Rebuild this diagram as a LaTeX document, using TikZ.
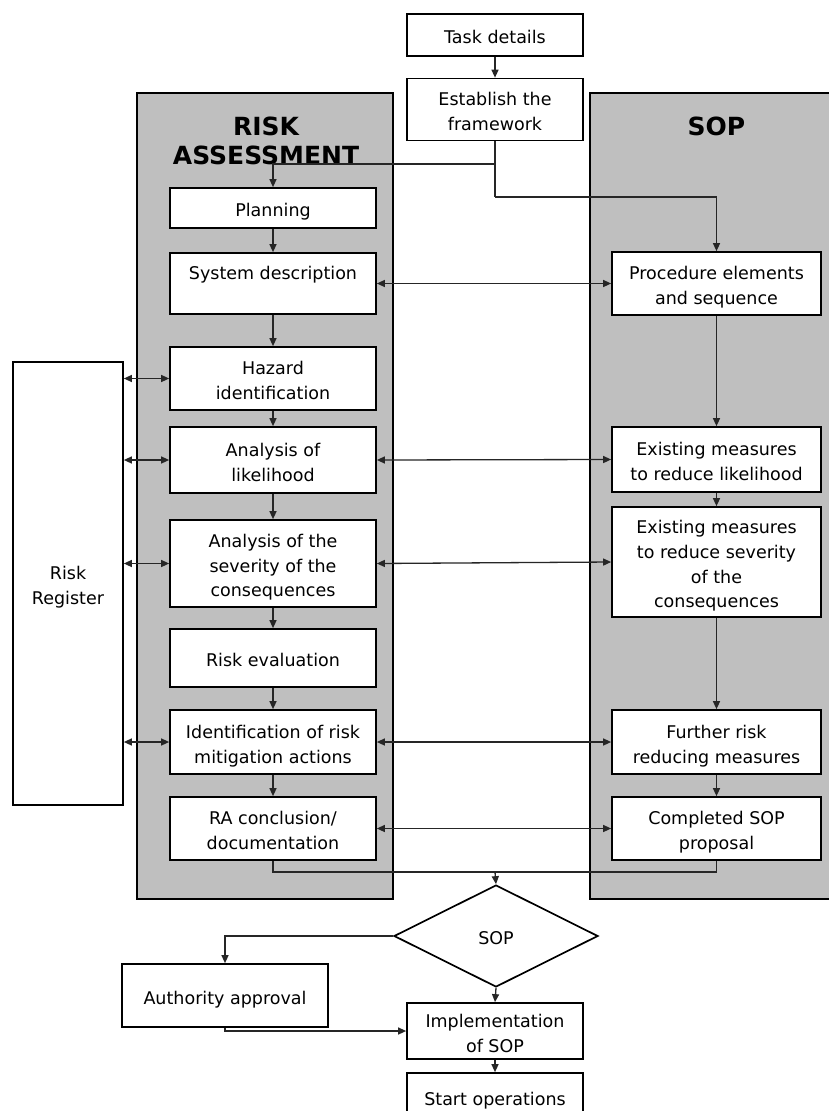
\documentclass[tikz,border=0pt]{standalone}
\usepackage{fontspec}
\setmainfont{DejaVu Sans}
\usetikzlibrary{shapes.geometric,arrows.meta}
\newcommand{\sr}{\rule{0pt}{22pt}}
\tikzset{
  box/.style={draw=black, fill=white, line width=1.7pt, align=center, inner sep=0pt,
    font=\fontsize{17.5}{24.7}\selectfont,
    execute at end node={\rule[-4.5pt]{0pt}{4.5pt}}},
  panel/.style={draw=black, fill=black!25, line width=1.7pt},
  ttl/.style={align=center, font=\fontsize{25}{29}\selectfont\bfseries},
  conn/.style={draw=black!85, line width=1.3pt},
  arr/.style={conn, -{Triangle[length=8pt,width=7pt]}},
  dbl/.style={conn, {Triangle[length=8pt,width=7pt]}-{Triangle[length=8pt,width=7pt]}}
}
\begin{document}
\begin{tikzpicture}[x=1pt,y=-1pt]
\clip (0,0) rectangle (829,1111);
\fill[white] (0,0) rectangle (829,1111);
% panels
\draw[panel] (137,93) rectangle (393,899);
\draw[panel] (590,93) rectangle (845,899);
\node[ttl] (tra) at (266,141) {RISK\\ASSESSMENT};
\node[ttl] (tsop) at (716.5,126) {SOP};
% coordinates
\coordinate (j1) at (495,164);
\coordinate (j2) at (495,197);
\coordinate (m) at (495,872);
% boxes
\node[box, minimum width=176, minimum height=42] (task) at (495,35) {\sr Task details};
\node[box, minimum width=176, minimum height=62] (estab) at (495,109.5) {\sr Establish the\\framework};
\node[box, minimum width=206, minimum height=40] (plan) at (273,208) {\sr Planning};
\node[box, minimum width=206, minimum height=61] (sysd) at (273,283.5) {\sr System description\\\mbox{}};
\node[box, minimum width=206, minimum height=63] (haz) at (273,378.5) {\sr Hazard\\identification};
\node[box, minimum width=206, minimum height=66] (lik) at (273,460) {\sr Analysis of\\likelihood};
\node[box, minimum width=206, minimum height=87] (sev) at (273,563.5) {\sr Analysis of the\\severity of the\\consequences};
\node[box, minimum width=206, minimum height=58] (reval) at (273,658) {\sr Risk evaluation};
\node[box, minimum width=206, minimum height=64] (ident) at (273,742) {\sr Identification of risk\\mitigation actions};
\node[box, minimum width=206, minimum height=63] (racon) at (273,828.5) {\sr RA conclusion/\\documentation};
\node[box, minimum width=209, minimum height=63] (proc) at (716.5,283.5) {\sr Procedure elements\\and sequence};
\node[box, minimum width=209, minimum height=65] (exlik) at (716.5,459.5) {\sr Existing measures\\to reduce likelihood};
\node[box, minimum width=209, minimum height=110] (exsev) at (716.5,562) {\sr Existing measures\\to reduce severity\\of the\\consequences};
\node[box, minimum width=209, minimum height=64] (further) at (716.5,742) {\sr Further risk\\reducing measures};
\node[box, minimum width=209, minimum height=63] (compl) at (716.5,828.5) {\sr Completed SOP\\proposal};
\node[box, minimum width=110, minimum height=443] (rr) at (68,583.5) {\sr Risk\\Register};
\node[box, diamond, minimum width=204, minimum height=102, shape aspect=2] (dia) at (496,936) {\sr SOP};
\node[box, minimum width=206, minimum height=63] (auth) at (225,995.5) {\sr Authority approval};
\node[box, minimum width=176, minimum height=56] (impl) at (495,1031) {\sr Implementation\\of SOP};
\node[box, minimum width=176, minimum height=48] (start) at (495,1097) {\sr Start operations};
% connectors
\draw[arr] (task) -- (estab);
\draw[conn] (estab.south) -- (j1);
\draw[arr] (j1) -| (plan.north);
\draw[conn] (j1) -- (j2);
\draw[arr] (j2) -| (proc.north);
\draw[arr] (plan) -- (sysd);
\draw[arr] (sysd) -- (haz);
\draw[arr] (haz) -- (lik);
\draw[arr] (lik) -- (sev);
\draw[arr] (sev) -- (reval);
\draw[arr] (reval) -- (ident);
\draw[arr] (ident) -- (racon);
\draw[arr] (proc) -- (exlik);
\draw[arr] (exlik) -- (exsev);
\draw[arr] (exsev) -- (further);
\draw[arr] (further) -- (compl);
\draw[dbl] (sysd.east) -- (proc.west);
\draw[dbl] (lik.east) -- (exlik.west);
\draw[dbl] (sev.east) -- (exsev.west);
\draw[dbl] (ident.east) -- (further.west);
\draw[dbl] (racon.east) -- (compl.west);
\draw[dbl] (haz.west -| rr.east) -- (haz.west);
\draw[dbl] (lik.west -| rr.east) -- (lik.west);
\draw[dbl] (sev.west -| rr.east) -- (sev.west);
\draw[dbl] (ident.west -| rr.east) -- (ident.west);
\draw[conn] (racon.south) |- (compl.south |- m) -- (compl.south);
\draw[arr] (m) -- (dia.north);
\draw[arr] (dia.west) -| (auth.north);
\draw[arr] (dia.south) -- (impl.north);
\draw[arr] (auth.south) |- (impl.west);
\draw[arr] (impl) -- (start);
\end{tikzpicture}
\end{document}
